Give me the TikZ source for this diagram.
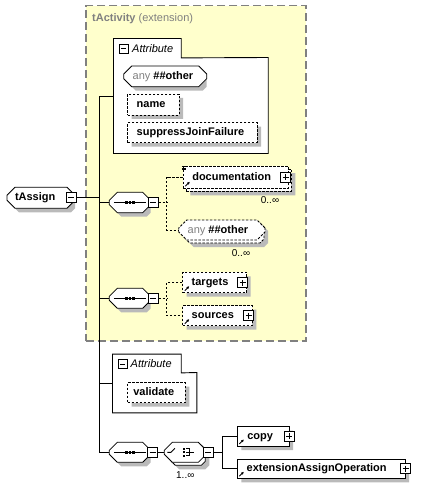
\documentclass[tikz,border=0pt]{standalone}
\usepackage{fontspec}
\setmainfont{Liberation Sans}
\usetikzlibrary{shapes.misc,arrows.meta,calc}
\definecolor{yel}{RGB}{255,255,204}
\definecolor{gtx}{RGB}{128,128,128}
% shadow polygon: x1 y1 x2 y2 offset chamfer
\newcommand\shpoly[6]{%
 \fill[black!27] (#1+#5+#6,#2+#5) -- (#3+#5-#6,#2+#5) -- (#3+#5,#2+#5+#6) -- (#3+#5,#4+#5-#6) -- (#3+#5-#6,#4+#5) -- (#1+#5+#6,#4+#5) -- (#1+#5,#4+#5-#6) -- (#1+#5,#2+#5+#6) -- cycle;}
% #1 style, #2 name, #3-#6 x1 y1 x2 y2, #7 left pad, #8 text, #9 mode (0 none,1 rect sh,2 oct sh,3 rect stacked,4 oct stacked)
\newcommand\ebox[9][]{%
 \pgfmathsetmacro\ew{#5-#3}\pgfmathsetmacro\eh{#6-#4}\pgfmathsetmacro\et{#5-#3-2*#7}%
 \pgfmathsetmacro\ecx{(#3+#5)/2}\pgfmathsetmacro\ecy{(#4+#6)/2}%
 \ifcase#9\relax
 \or \shpoly{#3}{#4}{#5}{#6}{4}{0}%
 \or \shpoly{#3}{#4}{#5}{#6}{4}{4}%
 \or \shpoly{#3}{#4}{#5}{#6}{7}{0}%
  \node[#1, minimum width=\ew pt, minimum height=\eh pt, inner sep=0pt] (#2-bk) at (\ecx+3,\ecy+3) {};%
 \or \shpoly{#3}{#4}{#5}{#6}{7}{4}%
  \node[#1, minimum width=\ew pt, minimum height=\eh pt, inner sep=0pt] (#2-bk) at (\ecx+3,\ecy+3) {};%
 \fi
 \node[#1, minimum width=\ew pt, minimum height=\eh pt, inner xsep=#7pt, inner ysep=0pt] (#2) at (\ecx,\ecy) {\makebox[\et pt][l]{#8}};}
\newcommand\seqicon[1]{%
 \draw[line width=0.9pt] ([xshift=5pt]#1.west) -- ([xshift=-5pt]#1.east);
 \foreach \dx in {-3.5,0,3.5}{\fill ([shift={(\dx-1.2,-1.2)}]#1.center) rectangle ([shift={(\dx+1.2,1.2)}]#1.center);}}
\newcommand\choiceicon[1]{%
 \draw[line width=0.9pt] ([xshift=3.5pt]#1.west) -- ++(3.5,0) -- ++(4,-4);
 \foreach \dy in {-3.5,0,3.5}{\fill ([shift={(-2.2,\dy-1.1)}]#1.center) rectangle ([shift={(0,\dy+1.1)}]#1.center);}
 \draw[line width=0.9pt] ([shift={(1,-3.5)}]#1.center) -- ++(3,0) -- ++(0,7) -- ++(-3,0);
 \draw[line width=0.9pt] ([shift={(1,0)}]#1.center) -- ++(8,0);}
\begin{document}
\begin{tikzpicture}[x=1pt,y=-1pt,font=\fontsize{11}{13}\selectfont,
 box/.style={rectangle, draw, fill=white, line width=0.8pt, font=\fontsize{11}{13}\selectfont\bfseries, text height=8pt, text depth=2pt},
 oct/.style={box, chamfered rectangle, chamfered rectangle sep=4pt},
 opt/.style={dash pattern=on 2.5pt off 1.5pt},
 plain/.style={rectangle, draw=none, fill=none},
 extbox/.style={rectangle, draw=gtx, fill=yel, line width=1.2pt, dash pattern=on 8pt off 4pt},
 frame/.style={draw, fill=white, line width=0.9pt},
 pm/.style={rectangle, draw, fill=white, line width=1pt, minimum size=10pt, inner sep=0pt},
 pmsmall/.style={pm, minimum size=9pt},
 minus/.style={path picture={\draw[line width=1pt] ([xshift=2pt]path picture bounding box.west) -- ([xshift=-2pt]path picture bounding box.east);}},
 plus/.style={path picture={\draw[line width=1pt] ([xshift=2pt]path picture bounding box.west) -- ([xshift=-2pt]path picture bounding box.east);
   \draw[line width=1pt] ([yshift=-2pt]path picture bounding box.north) -- ([yshift=2pt]path picture bounding box.south);}},
 conn/.style={line width=0.9pt},
 refarr/.style={line width=0.9pt, -{Latex[length=2.8pt,width=2.8pt]}},
 mult/.style={font=\fontsize{10}{12}\selectfont, inner sep=0pt},
 attrlbl/.style={font=\fontsize{11}{13}\selectfont\itshape, inner sep=0pt, anchor=west},
]
\useasboundingbox (0,0) rectangle (434,489);
% extension frame
\ebox[extbox]{ext}{86}{5.7}{306}{341}{0}{}{0}
\node[anchor=west, inner sep=0pt, text=gtx] (extl) at (92,19) {\textbf{tActivity} (extension)};
% attribute group 1
\ebox[plain]{a1}{113.7}{57.7}{268}{153.3}{0}{}{0}
\ebox[plain]{a1t}{113.7}{38.7}{181}{57.7}{0}{}{0}
\draw[frame] (a1t.south west) -- (a1t.north west) -- (a1t.north east) -- (a1t.south east) -- (a1.north east) -- (a1.south east) -- (a1.south west) -- cycle;
\node[pmsmall, minus] (a1m) at (123.7,48.8) {};
\node[attrlbl] (a1l) at (132,48.5) {Attribute};
\ebox[oct]{a1any}{127.7}{66}{202.7}{86.7}{5}{\textcolor{gtx}{\mdseries any} \#\#other}{2}
\ebox[box,opt]{aname}{127.7}{94}{179}{115}{9}{name}{1}
\ebox[box,opt]{asjf}{127.7}{122.7}{257}{142.7}{9}{suppressJoinFailure}{1}
% root
\ebox[oct]{tA}{11}{187.3}{71}{208.3}{4}{tAssign}{2}
\node[pm, minus] (tAm) at (71,197.8) {};
% trunk
\coordinate (trtop) at (99,96.7);
\coordinate (trbot) at (99,452.3);
\draw[conn] (trtop) -- (trbot);
\draw[conn] (trtop) -- (trtop -| a1.west);
\draw[conn] (tAm.east) -- (tAm.east -| trtop);
% sequence 1
\ebox[oct]{s1}{113.3}{192.3}{146.7}{212.7}{0}{}{2}
\seqicon{s1}
\node[pm, minus] (s1m) at (153,202.5) {};
\draw[conn] (s1.west) -- (s1.west -| trtop);
\ebox[box,opt]{doc}{183.3}{166}{288.3}{188.3}{9}{documentation}{3}
\node[pm, plus] (docp) at (285.8,177) {};
\foreach \yy in {0.5,2.3,4.1}{\draw[line width=0.7pt] ([shift={(-1,\yy)}]doc.north west) -- ++(4.5,0);}
\draw[refarr] ([shift={(2.5,-2.5)}]doc.south west) -- ++(4.5,-4.5);
\node[mult] (docm) at (270,200) {0..∞};
\ebox[oct,opt]{anyel}{182.7}{220}{261}{240}{5}{\textcolor{gtx}{\mdseries any} \#\#other}{4}
\node[mult] (anym) at (241,252.7) {0..∞};
\coordinate (s1x) at (166.7,202.5);
\draw[conn,opt] (s1m.east) -- (s1x);
\draw[conn,opt] (doc.west) -- (doc.west -| s1x) -- (anyel.west -| s1x) -- (anyel.west);
% sequence 2
\ebox[oct]{s2}{113.3}{288.3}{146.7}{308.3}{0}{}{2}
\seqicon{s2}
\node[pm, minus] (s2m) at (153,298.3) {};
\draw[conn] (s2.west) -- (s2.west -| trtop);
\ebox[box,opt]{tg}{182.7}{272.3}{246.7}{292.7}{9}{targets}{1}
\node[pm, plus] (tgp) at (242.8,282.8) {};
\draw[refarr] ([shift={(2.5,-2.5)}]tg.south west) -- ++(4.5,-4.5);
\ebox[box,opt]{src}{182.7}{305.7}{252.3}{325.7}{9}{sources}{1}
\node[pm, plus] (srcp) at (248.8,315.7) {};
\draw[refarr] ([shift={(2.5,-2.5)}]src.south west) -- ++(4.5,-4.5);
\coordinate (s2x) at (166.7,298.3);
\draw[conn,opt] (s2m.east) -- (s2x);
\draw[conn,opt] (tg.west) -- (tg.west -| s2x) -- (src.west -| s2x) -- (src.west);
% attribute group 2
\ebox[plain]{a2}{112.7}{372.7}{196.7}{412.7}{0}{}{0}
\ebox[plain]{a2t}{112.7}{354.3}{181}{372.7}{0}{}{0}
\draw[frame] (a2t.south west) -- (a2t.north west) -- (a2t.north east) -- (a2t.south east) -- (a2.north east) -- (a2.south east) -- (a2.south west) -- cycle;
\node[pmsmall, minus] (a2m) at (122.5,364) {};
\node[attrlbl] (a2l) at (130.5,363.7) {Attribute};
\ebox[box,opt]{aval}{127.7}{382.7}{185.3}{402.7}{5.6}{validate}{1}
\coordinate (a2c) at (112.7,383.3);
\draw[conn] (a2c) -- (a2c -| trtop);
% sequence 3 + choice
\ebox[oct]{s3}{113.3}{442.3}{146.7}{462.3}{0}{}{2}
\seqicon{s3}
\node[pm, minus] (s3m) at (152.7,452.3) {};
\draw[conn] (trbot) -- (s3.west);
\ebox[oct]{ch}{168.3}{442.3}{202.3}{462.3}{0}{}{4}
\choiceicon{ch}
\node[pm, minus] (chm) at (208,452.3) {};
\node[mult] (chmul) at (185.3,475) {1..∞};
\draw[conn] (s3m.east) -- (ch.west);
\ebox[box]{cp}{237.3}{426.7}{289}{446}{10}{copy}{1}
\node[pm, plus] (cpp) at (289.2,436.3) {};
\draw[refarr] ([shift={(2.5,-2.5)}]cp.south west) -- ++(4.5,-4.5);
\ebox[box]{eop}{237.3}{459}{405}{478.3}{9.4}{extensionAssignOperation}{1}
\node[pm, plus] (eopp) at (405.5,468.6) {};
\draw[refarr] ([shift={(2.5,-2.5)}]eop.south west) -- ++(4.5,-4.5);
\coordinate (c3x) at (222.7,452.3);
\draw[conn] (chm.east) -- (c3x);
\draw[conn] (cp.west) -- (cp.west -| c3x) -- (eop.west -| c3x) -- (eop.west);
\end{tikzpicture}
\end{document}
